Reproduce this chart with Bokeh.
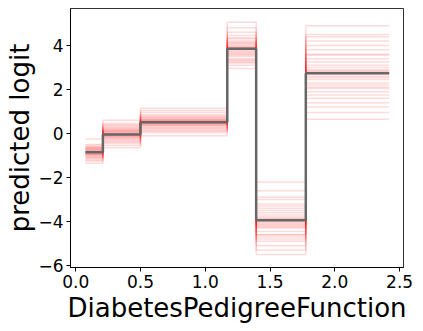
from bokeh.plotting import figure
from bokeh.embed import file_html
from bokeh.resources import INLINE
from bokeh.models import FixedTicker, CustomJSTickFormatter, Range1d

# Step edges of the partial dependence (feature values)
edges = [0.075, 0.21, 0.50, 1.17, 1.393, 1.776, 2.42]
# Mean predicted logit per interval
mean_vals = [-0.85, -0.05, 0.51, 3.85, -3.94, 2.74]
# Individual (bootstrap) curves, one value per interval
samples = [
    [-0.92, -0.10, 0.45, 3.70, -3.80, 2.60],
    [-0.70, 0.15, 0.62, 4.10, -4.30, 3.40],
    [-1.10, -0.30, 0.30, 3.40, -3.20, 1.90],
    [-0.80, 0.05, 0.55, 4.00, -4.60, 3.10],
    [-1.25, -0.55, 0.05, 3.10, -2.60, 1.20],
    [-0.55, 0.40, 0.95, 4.60, -5.10, 4.20],
    [-0.95, -0.15, 0.40, 3.80, -3.90, 2.30],
    [-0.85, 0.00, 0.50, 3.90, -4.00, 2.90],
    [-0.65, 0.25, 0.75, 4.30, -4.80, 3.80],
    [-1.05, -0.25, 0.35, 3.55, -3.50, 2.10],
    [-0.75, 0.10, 0.60, 3.95, -4.20, 2.80],
    [-1.35, -0.65, -0.10, 2.95, -2.20, 0.65],
    [-0.25, 0.60, 1.15, 5.05, -5.50, 4.90],
    [-0.90, -0.05, 0.48, 3.75, -3.70, 2.45],
    [-0.82, 0.08, 0.58, 3.85, -4.10, 3.25],
    [-1.00, -0.20, 0.25, 3.30, -3.40, 1.60],
    [-0.60, 0.30, 0.85, 4.45, -4.90, 4.00],
    [-0.88, -0.02, 0.52, 3.88, -3.95, 2.70],
    [-1.15, -0.40, 0.15, 3.20, -3.00, 1.40],
    [-0.72, 0.18, 0.68, 4.15, -4.45, 3.60],
    [-0.98, -0.12, 0.42, 3.65, -3.85, 2.20],
    [-0.50, 0.45, 1.05, 4.80, -5.30, 4.50],
    [-0.86, -0.08, 0.46, 3.60, -4.05, 2.55],
    [-0.78, 0.12, 0.64, 4.05, -4.25, 3.00],
    [-1.20, -0.45, 0.10, 3.25, -2.90, 0.95],
    [-0.68, 0.20, 0.72, 4.20, -4.60, 3.55],
    [-0.94, -0.18, 0.38, 3.50, -3.60, 2.05],
    [-0.84, 0.02, 0.54, 3.92, -4.15, 2.85],
    [-0.62, 0.35, 0.80, 4.35, -4.70, 4.40],
    [-1.08, -0.35, 0.20, 3.35, -3.30, 1.75],
]
x_ticks = [0.0, 0.5, 1.0, 1.5, 2.0, 2.5]
y_ticks = [-6, -4, -2, 0, 2, 4]
x_label = "DiabetesPedigreeFunction"
y_label = "predicted logit"

p = figure(output_backend="svg", toolbar_location=None,
           x_range=Range1d(-0.04, 2.53), y_range=Range1d(-6.09, 5.68),
           min_border_left=70, min_border_right=10, min_border_top=8,
           min_border_bottom=60, frame_width=333, frame_height=259)

for s in samples:
    p.step(x=edges, y=s + [s[-1]], mode="after", line_color="red",
           line_alpha=0.14, line_width=1.5)
p.step(x=edges, y=mean_vals + [mean_vals[-1]], mode="after",
       line_color="#676767", line_width=2.5)

p.xgrid.visible = False
p.ygrid.visible = False
p.outline_line_color = "black"
p.outline_line_alpha = 0.8
p.background_fill_color = "white"

for ax, ticks, fmt in ((p.xaxis[0], x_ticks, "tick.toFixed(1)"),
                       (p.yaxis[0], y_ticks, "tick.toFixed(0).replace('-', '\\u2212')")):
    ax.ticker = FixedTicker(ticks=ticks)
    ax.formatter = CustomJSTickFormatter(code="return " + fmt + ";")
    ax.major_label_text_font = "DejaVu Sans"
    ax.major_label_text_font_size = "17px"
    ax.major_label_text_color = "black"
    ax.axis_label_text_font = "DejaVu Sans"
    ax.axis_label_text_font_size = "26px"
    ax.axis_label_text_font_style = "normal"
    ax.axis_label_text_color = "black"
    ax.major_tick_out = 4
    ax.major_tick_in = 0
    ax.minor_tick_line_color = None
    ax.axis_line_color = "black"
    ax.major_tick_line_color = "black"

p.xaxis.axis_label = x_label
p.yaxis.axis_label = y_label
p.xaxis.major_label_standoff = 3
p.yaxis.major_label_standoff = 3
p.xaxis.axis_label_standoff = 2
p.yaxis.axis_label_standoff = 0

open("out.html", "w").write(file_html(p, INLINE))
